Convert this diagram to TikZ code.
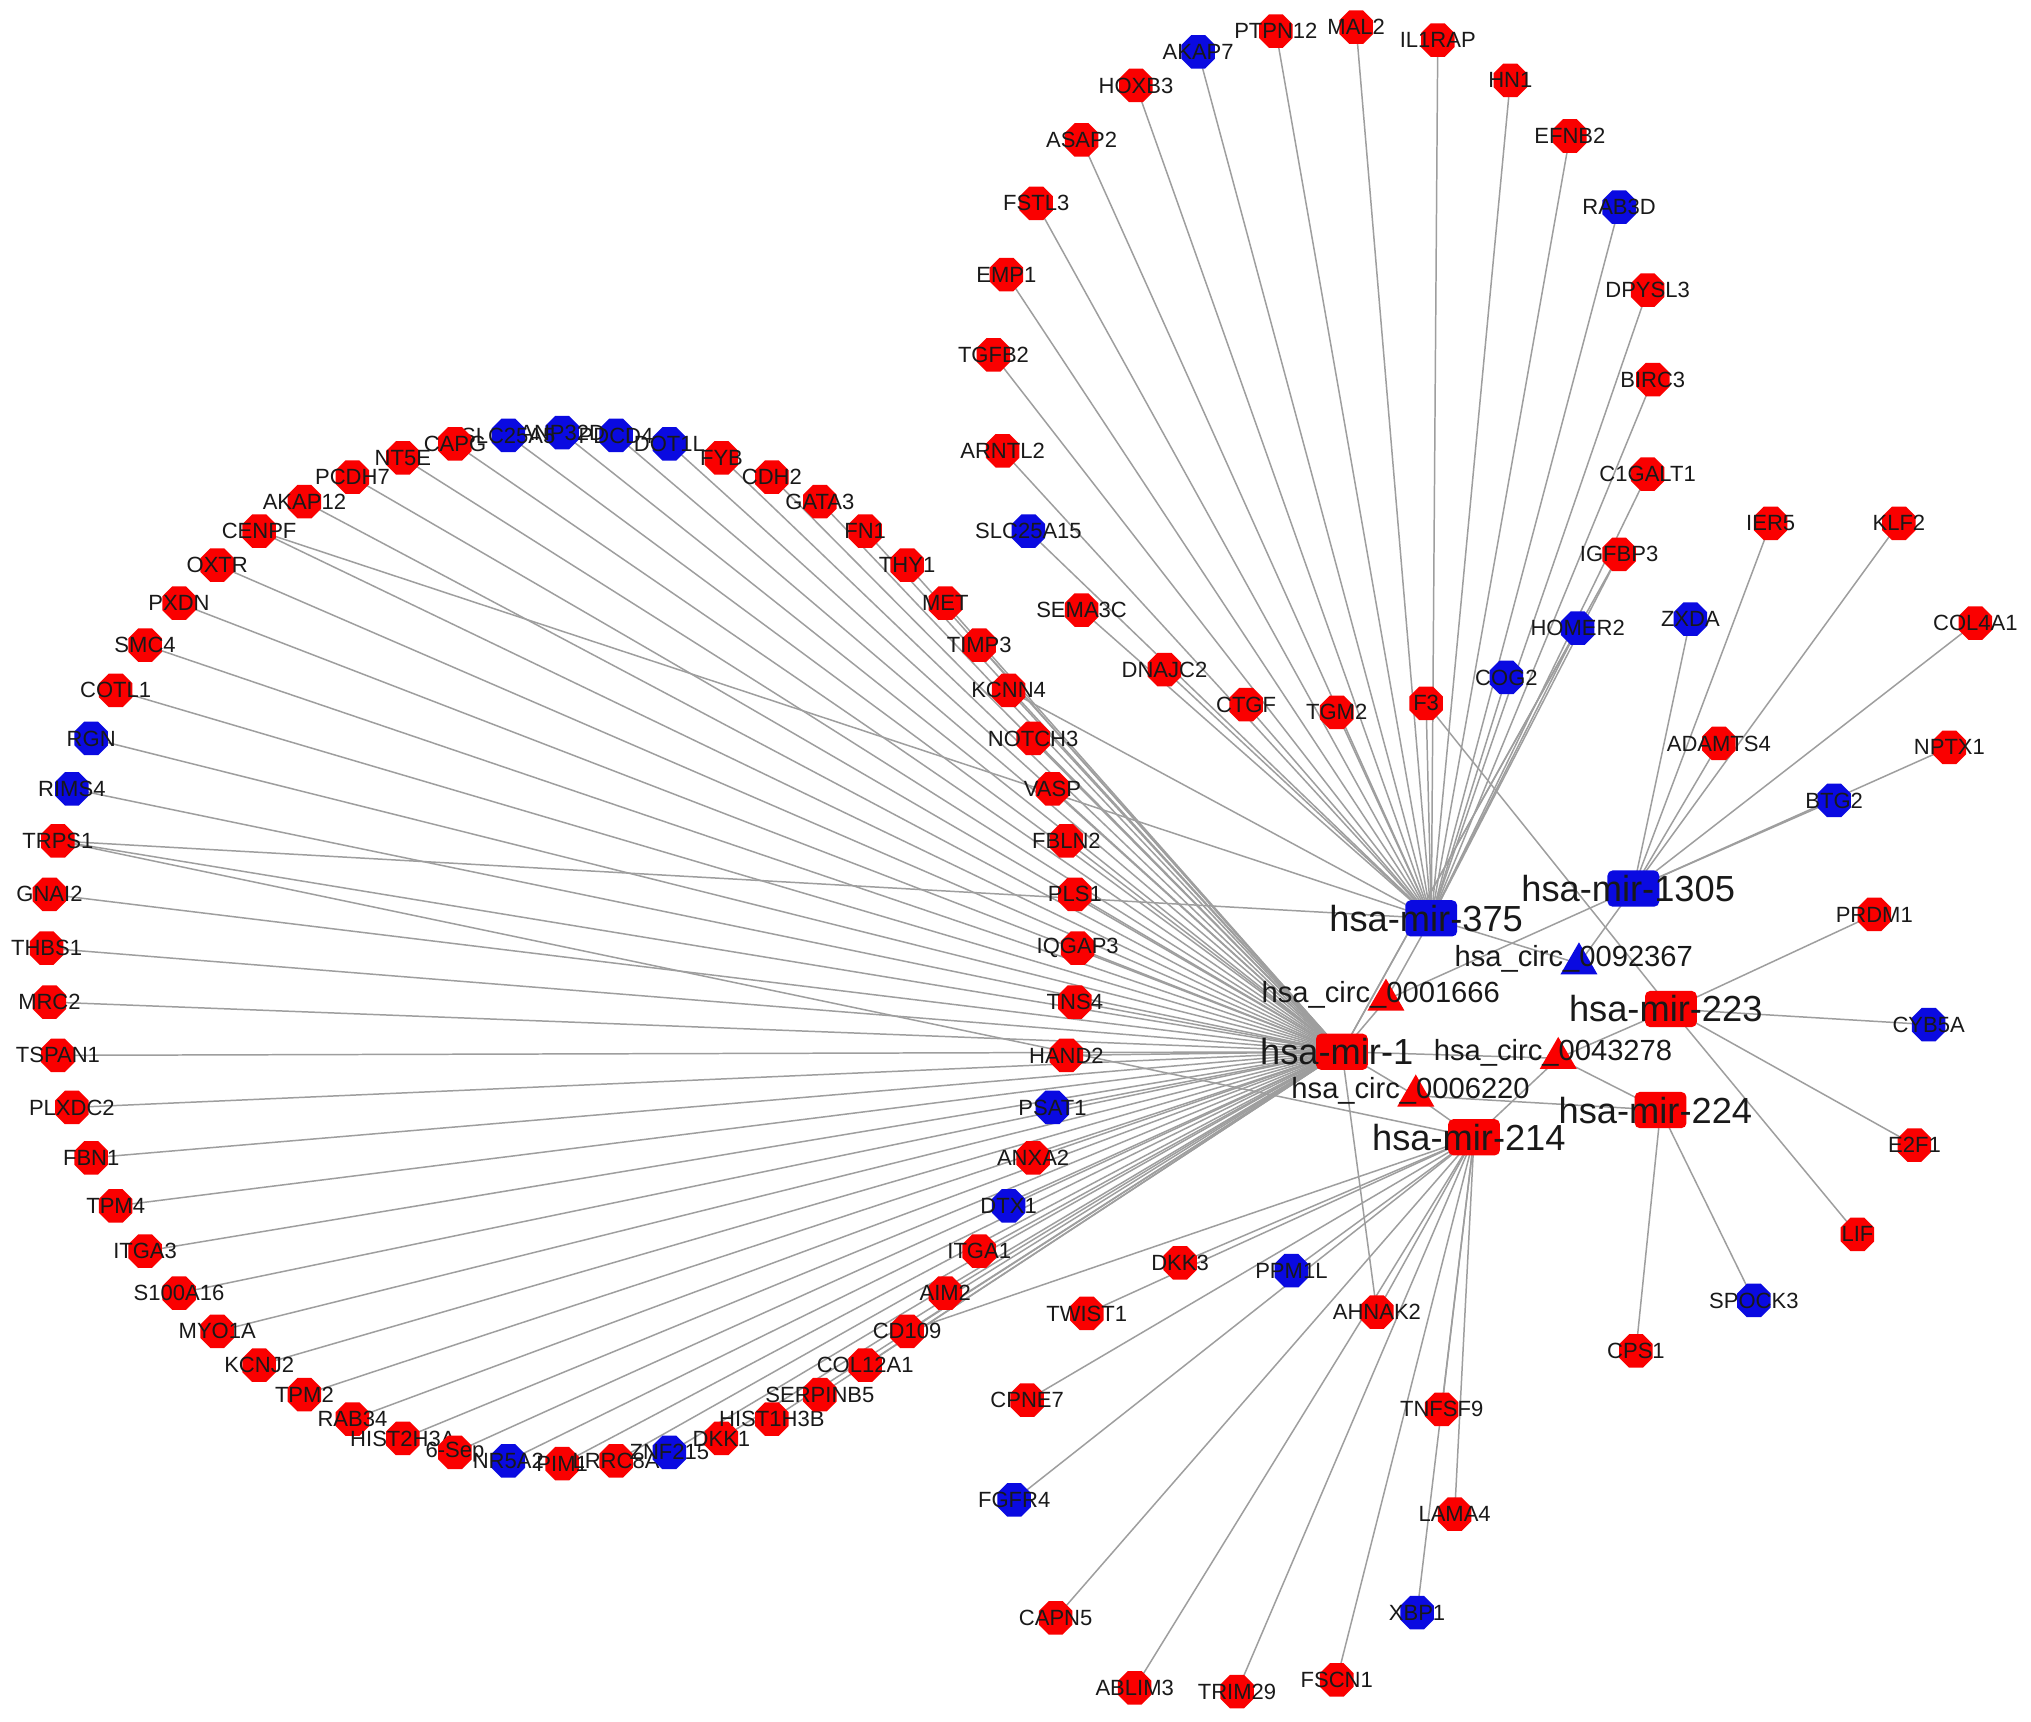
\documentclass[tikz,border=0pt]{standalone}
\usepackage{fontspec}
\setmainfont{Liberation Sans}
\usetikzlibrary{shapes.geometric,backgrounds}
\definecolor{nred}{RGB}{250,0,0}
\definecolor{nblue}{RGB}{10,10,225}
\definecolor{edgec}{RGB}{158,158,158}
\definecolor{txtc}{RGB}{25,25,25}
\tikzset{
  gene/.style={regular polygon, regular polygon sides=8, minimum size=28pt, inner sep=0pt, fill=#1},
  mirna/.style={rectangle, rounded corners=4pt, minimum width=40pt, minimum height=28pt, inner sep=0pt, fill=#1},
  circrna/.style={regular polygon, regular polygon sides=3, minimum size=33pt, inner sep=0pt, fill=#1},
  glab/.style={text=txtc, font=\fontsize{17}{17}\selectfont, inner sep=0pt},
  clab/.style={text=txtc, font=\fontsize{22.5}{22.5}\selectfont, inner sep=0pt, xshift=-4pt, yshift=4pt},
  mlab/.style={text=txtc, font=\fontsize{28}{28}\selectfont, inner sep=0pt, xshift=-4pt},
  edge/.style={draw=edgec, line width=1.15pt},
}
\begin{document}
\begin{tikzpicture}[x=1pt,y=-1pt]
\useasboundingbox (0,0) rectangle (1568,1329);

% ---- left ring (targets of hsa-mir-1)
\foreach \ang/\nm/\lb/\cl in {
 0/IQGAP3/IQGAP3/nred, 6/PLS1/PLS1/nred, 12/FBLN2/FBLN2/nred, 18/VASP/VASP/nred,
 24/NOTCH3/NOTCH3/nred, 30/KCNN4/KCNN4/nred, 36/TIMP3/TIMP3/nred, 42/MET/MET/nred,
 48/THY1/THY1/nred, 54/FN1/FN1/nred, 60/GATA3/GATA3/nred, 66/CDH2/CDH2/nred,
 72/FYB/FYB/nred, 78/DOT1L/DOT1L/nblue, 84/PDCD4/PDCD4/nblue, 90/ANP32D/ANP32D/nblue,
 96/SLC25A5/SLC25A5/nblue, 102/CAPG/CAPG/nred, 108/NT5E/NT5E/nred, 114/PCDH7/PCDH7/nred,
 120/AKAP12/AKAP12/nred, 126/CENPF/CENPF/nred, 132/OXTR/OXTR/nred, 138/PXDN/PXDN/nred,
 144/SMC4/SMC4/nred, 150/COTL1/COTL1/nred, 156/RGN/RGN/nblue, 162/RIMS4/RIMS4/nblue,
 168/TRPS1/TRPS1/nred, 174/GNAI2/GNAI2/nred, 180/THBS1/THBS1/nred, 186/MRC2/MRC2/nred,
 192/TSPAN1/TSPAN1/nred, 198/PLXDC2/PLXDC2/nred, 204/FBN1/FBN1/nred, 210/TPM4/TPM4/nred,
 216/ITGA3/ITGA3/nred, 222/S100A16/S100A16/nred, 228/MYO1A/MYO1A/nred, 234/KCNJ2/KCNJ2/nred,
 240/TPM2/TPM2/nred, 246/RAB34/RAB34/nred, 252/HIST2H3A/HIST2H3A/nred, 258/SEPsix/6-Sep/nred,
 264/NR5A2/NR5A2/nblue, 270/PIM1/PIM1/nred, 276/LRRC8A/LRRC8A/nred, 282/ZNF215/ZNF215/nblue,
 288/DKK1/DKK1/nred, 294/HIST1H3B/HIST1H3B/nred, 300/SERPINB5/SERPINB5/nred, 306/COL12A1/COL12A1/nred,
 312/CD109/CD109/nred, 318/AIM2/AIM2/nred, 324/ITGA1/ITGA1/nred, 330/DTX1/DTX1/nblue,
 336/ANXA2/ANXA2/nred, 342/PSAT1/PSAT1/nblue, 348/HAND2/HAND2/nred, 354/TNS4/TNS4/nred}
 {\node[gene=\cl, label={[glab]center:\lb}] (\nm) at ({434+398*cos(\ang)},{732-398*sin(\ang)}) {};}

% ---- upper fan, right side and lower fan
\foreach \nm/\px/\py/\cl in {
 AKAP7/925/40/nblue, PTPN12/985/24/nred, MAL2/1047/21/nred, IL1RAP/1110/31/nred,
 HN1/1166/62/nred, EFNB2/1212/105/nred, RAB3D/1250/160/nblue, DPYSL3/1272/224/nred,
 BIRC3/1276/293/nred, C1GALT1/1272/366/nred, IGFBP3/1250/428/nred, HOMER2/1218/485/nblue,
 COG2/1163/523/nblue, F3/1101/543/nred, TGM2/1032/550/nred, CTGF/962/544/nred,
 DNAJC2/899/517/nred, SEMA3C/835/471/nred, SLC25A15/794/410/nblue, ARNTL2/774/348/nred,
 TGFB2/767/274/nred, EMP1/777/212/nred, FSTL3/800/157/nred, ASAP2/835/108/nred,
 HOXB3/877/66/nred,
 IER5/1367/404/nred, KLF2/1466/404/nred, ZXDA/1305/478/nblue, COL4A1/1525/481/nred,
 ADAMTS4/1327/574/nred, NPTX1/1505/577/nred, BTG2/1416/618/nblue, PRDM1/1447/706/nred,
 CYB5A/1489/791/nblue, E2F1/1478/884/nred, LIF/1434/953/nred, SPOCK3/1354/1004/nblue,
 CPS1/1263/1043/nred,
 DKK3/911/975/nred, PPM1L/997/981/nblue, TWIST1/839/1014/nred, AHNAK2/1063/1013/nred,
 CPNE7/793/1081/nred, TNFSF9/1113/1088/nred, FGFR4/783/1158/nblue, LAMA4/1123/1169/nred,
 XBP1/1094/1245/nblue, CAPN5/815/1249/nred, ABLIM3/876/1303/nred, TRIM29/955/1306/nred,
 FSCN1/1032/1297/nred}
 {\node[gene=\cl, label={[glab]center:\nm}] (\nm) at (\px,\py) {};}

% ---- circRNAs
\node[circrna=nblue, label={[clab]center:hsa\_circ\_0092367}] (c92367) at (1219,744) {};
\node[circrna=nred,  label={[clab]center:hsa\_circ\_0001666}] (c1666)  at (1070,772) {};
\node[circrna=nred,  label={[clab]center:hsa\_circ\_0043278}] (c43278) at (1203,817) {};
\node[circrna=nred,  label={[clab]center:hsa\_circ\_0006220}] (c6220)  at (1093,846) {};

% ---- miRNAs
\node[mirna=nblue, label={[mlab]center:hsa-mir-375}]  (m375)  at (1105,709) {};
\node[mirna=nblue, label={[mlab]center:hsa-mir-1305}] (m1305) at (1261,686) {};
\node[mirna=nred,  label={[mlab]center:hsa-mir-1}]    (m1)    at (1036,812) {};
\node[mirna=nred,  label={[mlab]center:hsa-mir-223}]  (m223)  at (1290,779) {};
\node[mirna=nred,  label={[mlab]center:hsa-mir-224}]  (m224)  at (1282,857) {};
\node[mirna=nred,  label={[mlab]center:hsa-mir-214}]  (m214)  at (1138,878) {};

% ---- connectors
\begin{pgfonlayer}{background}
\fill[white] (0,0) rectangle (1568,1329);
\foreach \nm in {IQGAP3,PLS1,FBLN2,VASP,NOTCH3,KCNN4,TIMP3,MET,THY1,FN1,GATA3,CDH2,FYB,DOT1L,PDCD4,
  ANP32D,SLC25A5,CAPG,NT5E,PCDH7,AKAP12,CENPF,OXTR,PXDN,SMC4,COTL1,RGN,RIMS4,TRPS1,GNAI2,THBS1,MRC2,
  TSPAN1,PLXDC2,FBN1,TPM4,ITGA3,S100A16,MYO1A,KCNJ2,TPM2,RAB34,HIST2H3A,SEPsix,NR5A2,PIM1,LRRC8A,
  ZNF215,DKK1,HIST1H3B,SERPINB5,COL12A1,CD109,AIM2,ITGA1,DTX1,ANXA2,PSAT1,HAND2,TNS4,
  AHNAK2,c1666,c43278,c6220,HOMER2,IGFBP3}
  {\draw[edge] (\nm.center) -- (m1.center);}
\foreach \nm in {AKAP7,PTPN12,MAL2,IL1RAP,HN1,EFNB2,RAB3D,DPYSL3,BIRC3,C1GALT1,IGFBP3,HOMER2,COG2,
  F3,TGM2,CTGF,DNAJC2,SEMA3C,SLC25A15,ARNTL2,TGFB2,EMP1,FSTL3,ASAP2,HOXB3,CENPF,TRPS1,KCNN4,
  c92367,c1666}
  {\draw[edge] (\nm.center) -- (m375.center);}
\foreach \nm in {ZXDA,IER5,KLF2,COL4A1,ADAMTS4,NPTX1,BTG2,c92367,c1666}
  {\draw[edge] (\nm.center) -- (m1305.center);}
\foreach \nm in {PRDM1,CYB5A,E2F1,LIF,F3,c43278}
  {\draw[edge] (\nm.center) -- (m223.center);}
\foreach \nm in {SPOCK3,CPS1,c43278,c6220}
  {\draw[edge] (\nm.center) -- (m224.center);}
\foreach \nm in {DKK3,PPM1L,TWIST1,AHNAK2,CPNE7,FGFR4,CAPN5,ABLIM3,TRIM29,FSCN1,XBP1,LAMA4,TNFSF9,
  c43278,c6220,TRPS1,CD109}
  {\draw[edge] (\nm.center) -- (m214.center);}
\end{pgfonlayer}
\end{tikzpicture}
\end{document}
